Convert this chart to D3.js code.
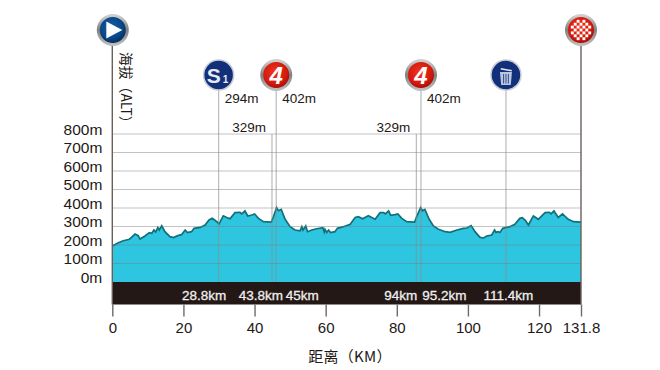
<!DOCTYPE html>
<html>
<head>
<meta charset="utf-8">
<script src="https://cdnjs.cloudflare.com/ajax/libs/d3/7.8.5/d3.min.js"></script>
<style>
body { margin: 0; background: #fff; }
text { font-family: "Liberation Sans", sans-serif; fill: #231815; }
</style>
</head>
<body>
<div id="chart"></div>
<script>
// profile
const profile_km = [0, 1.7, 3.1, 4.8, 5.4, 6.4, 7.3, 7.8, 9.2, 10.4, 11.1, 11.7, 12.2, 12.8, 13.2, 13.9, 14.8, 16.2, 17.2, 18.6, 19.5, 20.5, 21.1, 22.3, 23, 24.7, 26.1, 27.2, 28.1, 29.4, 30, 31.2, 32.2, 33.1, 34.5, 35.9, 36.4, 37.3, 38.1, 39.2, 40, 41.1, 42.5, 44.7, 45.3, 46.2, 46.7, 47.5, 48.6, 50, 51.4, 52.8, 53.3, 53.6, 54.4, 54.9, 56.1, 57.5, 59.2, 59.6, 59.8, 60.3, 60.8, 61.4, 62.6, 63.3, 65, 66.9, 68.3, 69.2, 70.4, 72, 73.9, 75.3, 76.3, 76.8, 77.7, 78.3, 79.5, 80.3, 81.4, 82.8, 85, 85.6, 86.7, 87.2, 87.9, 89.1, 90.3, 91.7, 93.6, 95, 96.9, 98.7, 99.7, 100.9, 102, 103.4, 104.4, 105.3, 106.2, 106.7, 107.5, 107.9, 108.5, 109, 109.8, 111.8, 113.2, 114.6, 115.3, 116.2, 117, 118.4, 119.8, 121.7, 122.9, 123.4, 124.2, 125.4, 126.6, 128.2, 129.7, 131.8];
const profile_alt = [195, 212, 223, 231, 241, 259, 250, 232, 249, 267, 263, 281, 270, 294, 281, 304, 272, 245, 240, 252, 256, 281, 267, 272, 290, 295, 308, 335, 344, 326, 313, 358, 349, 342, 375, 377, 368, 384, 357, 362, 368, 344, 326, 324, 353, 402, 385, 392, 339, 299, 281, 277, 299, 281, 303, 272, 281, 288, 294, 270, 285, 268, 281, 267, 272, 290, 299, 312, 349, 353, 342, 358, 339, 375, 375, 368, 384, 360, 364, 368, 344, 326, 324, 353, 402, 385, 392, 339, 303, 285, 272, 268, 281, 290, 292, 305, 272, 241, 238, 249, 252, 254, 281, 268, 272, 268, 290, 299, 312, 344, 348, 332, 308, 357, 339, 375, 377, 368, 384, 349, 368, 339, 326, 324];

// markers along the route
const marker_km = [29.9, 44.9, 46.1, 85.5, 86.8, 110.7];
const marker_alt = [294, 329, 402, 329, 402, null];
const marker_dist = ['28.8km', '43.8km', '45km', '94km', '95.2km', '111.4km'];
const marker_icon = ['sprint', null, 'climb', null, 'climb', 'trash'];

const alt_ticks = [0, 100, 200, 300, 400, 500, 600, 700, 800];
const km_ticks = [0, 20, 40, 60, 80, 100, 120, 131.8];

// chart settings
const width = 660, height = 370;
const left = 112.3, right = 581, zero_y = 282, top_y = 134, band_h = 22.5;
const fill_color = '#2ec5e0', line_color = '#12707a', band_color = '#231815';

const x = d3.scaleLinear().domain([0, 131.8]).range([left, right]);
const y = d3.scaleLinear().domain([0, 800]).range([zero_y, top_y]);

const svg = d3.select('#chart').append('svg')
	.attr('width', width)
	.attr('height', height)
	.style('display', 'block');

// icon gradients
const defs = svg.append('defs');
function radial(id, stops) {
	const g = defs.append('radialGradient').attr('id', id).attr('cx', '45%').attr('cy', '40%').attr('r', '65%');
	stops.forEach((s) => g.append('stop').attr('offset', s[0]).attr('stop-color', s[1]));
}
radial('blue_grad', [[0, '#0f5fa8'], [0.6, '#0a4688'], [1, '#051f42']]);
radial('red_grad', [[0, '#f2341c'], [0.65, '#d2180c'], [1, '#7c0a05']]);
const ring = defs.append('linearGradient').attr('id', 'ring_grad').attr('x1', 0).attr('y1', 0).attr('x2', 0).attr('y2', 1);
ring.append('stop').attr('offset', 0).attr('stop-color', '#cfcfcf');
ring.append('stop').attr('offset', 0.5).attr('stop-color', '#808080');
ring.append('stop').attr('offset', 1).attr('stop-color', '#bdbdbd');

// elevation area
const area = d3.area()
	.x((d) => x(d[0]))
	.y0(zero_y)
	.y1((d) => y(d[1]));
const outline = d3.line()
	.x((d) => x(d[0]))
	.y((d) => y(d[1]));
const points = profile_km.map((k, i) => [k, profile_alt[i]]);

svg.append('path').attr('d', area(points)).attr('fill', fill_color);
svg.append('path').attr('d', outline(points))
	.attr('fill', 'none')
	.attr('stroke', line_color)
	.attr('stroke-width', 1.7);

// grid lines show through the fill
svg.selectAll('.grid')
	.data(alt_ticks.slice(1))
	.enter()
	.append('line')
	.attr('x1', left)
	.attr('x2', right)
	.attr('y1', (d) => y(d))
	.attr('y2', (d) => y(d))
	.attr('stroke', '#7a7a7a')
	.attr('stroke-opacity', 0.45)
	.attr('stroke-width', 1.2);

// marker lines
svg.selectAll('.marker')
	.data(marker_km)
	.enter()
	.append('line')
	.attr('x1', (d) => x(d))
	.attr('x2', (d) => x(d))
	.attr('y1', (d, i) => marker_icon[i] ? 80 : top_y)
	.attr('y2', zero_y)
	.attr('stroke', '#8c8c8c')
	.attr('stroke-opacity', 0.6)
	.attr('stroke-width', 1.2);

// dark band
svg.append('rect')
	.attr('x', left)
	.attr('y', zero_y)
	.attr('width', right - left)
	.attr('height', band_h)
	.attr('fill', band_color);

// distances inside the band, nudged so they do not collide
const dist_dx = [-14.5, -11, 26, -15.5, 23.5, 2.5];
svg.selectAll('.dist')
	.data(marker_dist)
	.enter()
	.append('text')
	.attr('x', (d, i) => x(marker_km[i]) + dist_dx[i])
	.attr('y', zero_y + 18)
	.attr('text-anchor', 'middle')
	.attr('font-size', 13.5)
	.attr('stroke', '#f0eeee')
	.attr('stroke-width', 0.3)
	.style('fill', '#f0eeee')
	.text((d) => d);

// altitudes beside the lines
marker_km.forEach((k, i) => {
	if (marker_alt[i] === null) return;
	const low = marker_icon[i] === null;
	svg.append('text')
		.attr('x', x(k) + (low ? -6 : 6))
		.attr('y', low ? 132 : 103)
		.attr('text-anchor', low ? 'end' : 'start')
		.attr('font-size', 13.5)
		.text(marker_alt[i] + 'm');
});

// axes, left labels sit a little above their grid line
const y_axis = svg.append('g')
	.attr('transform', `translate(${left},0)`)
	.call(d3.axisLeft(y).tickValues(alt_ticks).tickSize(0).tickPadding(10).tickFormat((d) => d + 'm'));
y_axis.select('.domain').remove();
y_axis.selectAll('text')
	.attr('font-size', 15.5)
	.attr('y', -4.5)
	.style('font-family', '"Liberation Sans", sans-serif');

const x_axis = svg.append('g')
	.attr('transform', `translate(0,${zero_y + band_h})`)
	.call(d3.axisBottom(x).tickValues(km_ticks).tickSize(12).tickPadding(6).tickFormat((d) => d));
x_axis.select('.domain').remove();
x_axis.selectAll('line').attr('stroke', '#6f6a68').attr('stroke-width', 1.4);
x_axis.selectAll('text')
	.attr('font-size', 15)
	.style('font-family', '"Liberation Sans", sans-serif');

// start and finish poles
[left, right].forEach((px) => {
	svg.append('line')
		.attr('x1', px)
		.attr('x2', px)
		.attr('y1', 40)
		.attr('y2', zero_y + band_h)
		.attr('stroke', '#6b5f5a')
		.attr('stroke-width', 1.4);
});

// titles
svg.append('text')
	.attr('transform', 'translate(120.5,52) rotate(90)')
	.attr('font-size', 13.8)
	.style('font-family', '"Noto Sans CJK SC", sans-serif')
	.text('海拔（ALT）');

svg.append('text')
	.attr('x', 350)
	.attr('y', 362)
	.attr('text-anchor', 'middle')
	.attr('font-size', 15)
	.attr('letter-spacing', 0.3)
	.style('font-family', '"Noto Sans CJK SC", sans-serif')
	.text('距离（KM）');

// icons
function badge(px, py, r, grad, silver) {
	const g = svg.append('g').attr('transform', `translate(${px},${py})`);
	g.append('circle').attr('r', r)
		.attr('fill', grad)
		.attr('stroke', silver ? 'url(#ring_grad)' : '#c8ccd4')
		.attr('stroke-width', silver ? 3 : 1.5);
	return g;
}

const start_icon = badge(x(0) + 0.5, 30, 14.5, 'url(#blue_grad)', true);
start_icon.append('path').attr('d', 'M-6.5,-8.5 L9.5,0 L-6.5,8.5 Z').attr('fill', '#fff');

// checker flag on the finish icon
const finish_icon = badge(right, 30, 14.5, 'url(#red_grad)', true);
const cell = 2.9;
d3.range(-3, 4).forEach((a) => {
	d3.range(-3, 4).forEach((b) => {
		if (Math.abs(a) + Math.abs(b) > 4) return;
		if ((a + b + 6) % 2 !== 0) return;
		finish_icon.append('rect')
			.attr('x', a * cell - cell / 2)
			.attr('y', b * cell - cell / 2)
			.attr('width', cell)
			.attr('height', cell)
			.attr('fill', '#fff');
	});
});

marker_km.forEach((k, i) => {
	const px = x(k), py = 75;
	if (marker_icon[i] === 'sprint') {
		const g = badge(px, py, 15, '#12307a', false);
		g.append('text').attr('x', -12).attr('y', 7.5)
			.attr('font-size', 21).attr('font-weight', 'bold').style('fill', '#e6e9f2').text('S');
		g.append('text').attr('x', 4).attr('y', 8)
			.attr('font-size', 10).attr('font-weight', 'bold').style('fill', '#e6e9f2').text('1');
	}
	if (marker_icon[i] === 'climb') {
		const g = badge(px, py, 14.5, 'url(#red_grad)', true);
		g.append('text').attr('y', 8.5).attr('text-anchor', 'middle')
			.attr('font-size', 24).attr('font-weight', 'bold').attr('font-style', 'italic')
			.style('fill', '#fff').text('4');
	}
	if (marker_icon[i] === 'trash') {
		const g = badge(px, py, 15, '#12307a', false);
		g.append('path').attr('d', 'M-6,-3 L6,-3 L4.8,10 L-4.8,10 Z').attr('fill', '#b9c6de');
		g.append('path').attr('d', 'M-5,-7 L6,-5 L5.6,-3.5 L-5.4,-5.5 Z').attr('fill', '#e4e9f3');
		[-2.4, 0, 2.4].forEach((bx) => {
			g.append('line').attr('x1', bx).attr('x2', bx).attr('y1', -1).attr('y2', 8.5)
				.attr('stroke', '#12307a').attr('stroke-width', 0.8);
		});
	}
});
</script>
</body>
</html>
